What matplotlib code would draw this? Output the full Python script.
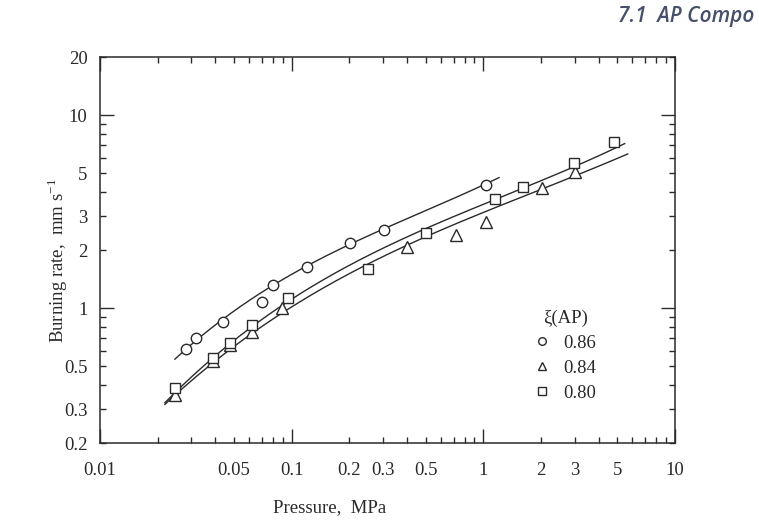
import numpy as np
import matplotlib
matplotlib.use("Agg")
import matplotlib.pyplot as plt
from matplotlib.ticker import FixedLocator, FuncFormatter
from matplotlib.lines import Line2D

#------------------------------------------------------------------------------#
# Data                                                    #
#------------------------------------------------------------------------------#

# xi(AP) = 0.86, circles
p_086 = [0.0281, 0.0317, 0.0438, 0.070, 0.0799, 0.120, 0.201, 0.303, 1.03]
r_086 = [0.614, 0.700, 0.847, 1.076, 1.317, 1.63, 2.17, 2.54, 4.34]

# xi(AP) = 0.84, triangles
p_084 = [0.0246, 0.0389, 0.0477, 0.0621, 0.089, 0.401, 0.72, 1.03, 2.04, 3.0]
r_084 = [0.355, 0.535, 0.645, 0.752, 1.00, 2.08, 2.39, 2.80, 4.18, 5.09]

# xi(AP) = 0.80, squares
p_080 = [0.0246, 0.0389, 0.0477, 0.0621, 0.0957, 0.251, 0.500, 1.15, 1.62, 2.97, 4.80]
r_080 = [0.386, 0.551, 0.659, 0.817, 1.127, 1.589, 2.46, 3.66, 4.26, 5.67, 7.28]

# points along the drawn curves
fit_p_086 = [0.0246, 0.044, 0.08, 0.2, 0.5, 1.21]
fit_r_086 = [0.545, 0.88, 1.30, 2.17, 3.16, 4.76]
fit_p_080 = [0.0218, 0.039, 0.0957, 0.5, 1.15, 2.97, 5.48]
fit_r_080 = [0.322, 0.55, 1.12, 2.46, 3.66, 5.67, 6.92]
fit_p_084 = [0.0218, 0.039, 0.089, 0.25, 0.40, 1.0, 2.04, 3.0, 5.68]
fit_r_084 = [0.31, 0.53, 1.0, 1.59, 2.08, 3.14, 4.18, 5.09, 6.08]

labels = ["0.86", "0.84", "0.80"]
x_ticklabels = [0.01, 0.05, 0.1, 0.2, 0.3, 0.5, 1, 2, 3, 5, 10]
y_ticklabels = [0.2, 0.3, 0.5, 1, 2, 3, 5, 10, 20]

#------------------------------------------------------------------------------#
# Plot                                                                         #
#------------------------------------------------------------------------------#
plt.rcParams['font.family'] = ['Liberation Serif', 'DejaVu Serif']
plt.rcParams['mathtext.fontset'] = 'custom'
plt.rcParams['mathtext.rm'] = 'Liberation Serif'
ink = '#2a2a2a'
fs = 13.5

fig = plt.figure(figsize=(7.59, 5.22), dpi=100)
ax = fig.add_axes([0.1318, 0.1513, 0.889 - 0.1318, 0.8908 - 0.1513])
ax.set_xscale('log')
ax.set_yscale('log')
ax.set_xlim(0.01, 10)
ax.set_ylim(0.2, 20)


def smooth(px, py):
    lx, ly = np.log10(px), np.log10(py)
    c = np.polyfit(lx, ly, 3)
    xx = np.linspace(lx[0], lx[-1], 200)
    return 10 ** xx, 10 ** np.polyval(c, xx)


for fp, fr in [(fit_p_086, fit_r_086), (fit_p_080, fit_r_080), (fit_p_084, fit_r_084)]:
    xx, yy = smooth(fp, fr)
    ax.plot(xx, yy, '-', color=ink, lw=1.0, zorder=2)

mk = dict(ls='none', mfc='white', mec=ink, mew=1.0, zorder=3)
ax.plot(p_084, r_084, marker='^', ms=8, **mk)
ax.plot(p_080, r_080, marker='s', ms=7.5, **mk)
ax.plot(p_086, r_086, marker='o', ms=7.5, **mk)

# ticks
xmaj = [0.01, 0.1, 1, 10]
xmin = [m * d for d in [0.01, 0.1, 1] for m in range(2, 10)]
ymaj = [1, 10]
ymin = [m * d for d in [0.1, 1, 10] for m in range(2, 10) if 0.2 <= m * d <= 20]

ax.xaxis.set_major_locator(FixedLocator(xmaj))
ax.xaxis.set_minor_locator(FixedLocator(xmin))
ax.yaxis.set_major_locator(FixedLocator(ymaj))
ax.yaxis.set_minor_locator(FixedLocator(ymin))


def fmt(vals):
    def f(v, pos):
        for t in vals:
            if abs(v - t) / t < 1e-6:
                return ('%g' % t)
        return ''
    return FuncFormatter(f)


ax.xaxis.set_major_formatter(fmt(x_ticklabels))
ax.xaxis.set_minor_formatter(fmt(x_ticklabels))
ax.yaxis.set_major_formatter(fmt(y_ticklabels))
ax.yaxis.set_minor_formatter(fmt(y_ticklabels))

ax.tick_params(which='both', direction='in', top=True, right=True,
               colors=ink, labelsize=fs, width=1.0)
ax.tick_params(which='major', length=10)
ax.tick_params(which='minor', length=4.5)
ax.tick_params(axis='x', which='both', pad=14)
ax.tick_params(axis='y', which='both', pad=9)
for s in ax.spines.values():
    s.set_linewidth(1.1)
    s.set_color(ink)

fig.text(0.434, 0.027, "Pressure,  MPa", fontsize=fs, color=ink, ha='center', va='center')
fig.text(0.076, 0.5, "Burning rate,  mm s$^{-1}$", fontsize=fs, color=ink,
         rotation=90, ha='center', va='center')

handles = [Line2D([], [], marker=m, ms=5.5, **mk) for m in ['o', '^', 's']]
leg = ax.legend(handles, labels, title="\u03be(AP)", frameon=False, fontsize=fs,
                title_fontsize=fs, loc='upper left', bbox_to_anchor=(0.74, 0.37),
                handlelength=0.8, handletextpad=0.7, labelspacing=0.42, borderpad=0)
for t in leg.get_texts():
    t.set_color(ink)
leg.get_title().set_color(ink)

fig.text(0.814, 0.968, "7.1  AP Compo", fontsize=15, style='italic', weight='semibold',
         family='Open Sans', color='#46506a', ha='left', va='center')

fig.savefig('out.png', dpi=100)
